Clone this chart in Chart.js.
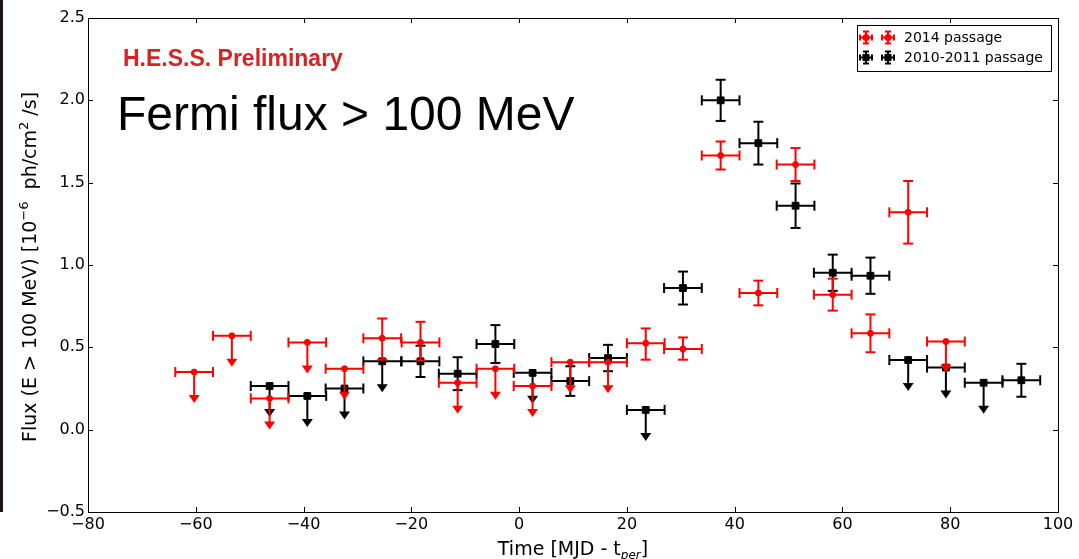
<!DOCTYPE html>
<html>
<head>
<meta charset="utf-8">
<script src="https://cdn.jsdelivr.net/npm/chart.js@4.4.1/dist/chart.umd.min.js"></script>
<style>
  html, body { margin: 0; padding: 0; background: #fff; }
  #wrap { position: relative; width: 1079px; height: 559px; }
  #edge { position: absolute; left: 0; top: 0; width: 3px; height: 512px; background: #1e1414; }
</style>
</head>
<body>
<div id="wrap">
  <canvas id="fluxChart" width="1079" height="559"></canvas>
  <div id="edge"></div>
</div>
<script>
// bins are one week wide
const binHalf = 3.5;

// 2014 passage
const time2014  = [-60.3, -53.3, -46.3, -39.3, -32.4, -25.4, -18.3, -11.4, -4.4, 2.5, 9.5, 16.5, 23.5, 30.4, 37.4, 44.4, 51.3, 58.2, 65.2, 72.2, 79.2];
const flux2014  = [0.35, 0.57, 0.19, 0.53, 0.37, 0.555, 0.53, 0.285, 0.37, 0.265, 0.41, 0.41, 0.525, 0.49, 1.665, 0.83, 1.61, 0.82, 0.585, 1.32, 0.535];
const errHi2014 = [0, 0, 0, 0, 0, 0.12, 0.125, 0, 0, 0, 0, 0, 0.09, 0.07, 0.085, 0.075, 0.10, 0.097, 0.115, 0.19, 0];
const errLo2014 = [0, 0, 0, 0, 0, 0.13, 0.11, 0, 0, 0, 0, 0, 0.10, 0.065, 0.085, 0.075, 0.10, 0.097, 0.115, 0.19, 0];
const ul2014    = [1, 1, 1, 1, 1, 0, 0, 1, 1, 1, 1, 1, 0, 0, 0, 0, 0, 0, 0, 0, 1];

// 2010-2011 passage
const time2010  = [-46.3, -39.3, -32.4, -25.4, -18.3, -11.4, -4.4, 2.5, 9.5, 16.5, 23.5, 30.4, 37.4, 44.4, 51.3, 58.2, 65.2, 72.2, 79.2, 86.2, 93.2];
const flux2010  = [0.265, 0.205, 0.25, 0.415, 0.415, 0.34, 0.52, 0.345, 0.295, 0.435, 0.12, 0.86, 2.0, 1.74, 1.36, 0.953, 0.935, 0.423, 0.377, 0.285, 0.30];
const errHi2010 = [0, 0, 0, 0, 0.095, 0.10, 0.115, 0, 0.09, 0.08, 0, 0.10, 0.125, 0.13, 0.135, 0.11, 0.11, 0, 0, 0, 0.10];
const errLo2010 = [0, 0, 0, 0, 0.095, 0.10, 0.115, 0, 0.09, 0.08, 0, 0.10, 0.125, 0.13, 0.135, 0.11, 0.11, 0, 0, 0, 0.10];
const ul2010    = [1, 1, 1, 1, 0, 0, 0, 1, 0, 0, 1, 0, 0, 0, 0, 0, 0, 1, 1, 1, 0];

const xTicks = [-80, -60, -40, -20, 0, 20, 40, 60, 80, 100];
const yTicks = [-0.5, 0.0, 0.5, 1.0, 1.5, 2.0, 2.5];

const seriesLabels = ['2014 passage', '2010-2011 passage'];

const FONT = '"DejaVu Sans", sans-serif';

function toPoints(t, f) {
    return t.map((x, i) => ({ x: x, y: f[i] }));
}
function minusSign(s) {
    return String(s).replace('-', '\u2212');
}

function line(ctx, x0, y0, x1, y1) {
    ctx.beginPath();
    ctx.moveTo(x0, y0);
    ctx.lineTo(x1, y1);
    ctx.stroke();
}

// error bars / upper-limit arrows, drawn just before each dataset's markers
const errorBars = {
    id: 'errorBars',
    beforeDatasetDraw(chart, args) {
        const ds = chart.data.datasets[args.index];
        const xs = chart.scales.x, ys = chart.scales.y;
        const ctx = chart.ctx;
        ctx.save();
        ctx.strokeStyle = ds.borderColor;
        ctx.fillStyle = ds.borderColor;
        ctx.lineWidth = 2;
        ds.data.forEach((p, i) => {
            const px = xs.getPixelForValue(p.x);
            const py = ys.getPixelForValue(p.y);
            const x0 = xs.getPixelForValue(p.x - binHalf);
            const x1 = xs.getPixelForValue(p.x + binHalf);
            line(ctx, x0, py, x1, py);
            line(ctx, x0, py - 5, x0, py + 5);
            line(ctx, x1, py - 5, x1, py + 5);
            if (ds.upperLimit[i]) {
                line(ctx, px, py, px, py + 24);
                ctx.beginPath();
                ctx.moveTo(px - 5.5, py + 23);
                ctx.lineTo(px + 5.5, py + 23);
                ctx.lineTo(px, py + 31);
                ctx.closePath();
                ctx.fill();
            } else {
                const yt = ys.getPixelForValue(p.y + ds.errHi[i]);
                const yb = ys.getPixelForValue(p.y - ds.errLo[i]);
                line(ctx, px, yt, px, yb);
                line(ctx, px - 5, yt, px + 5, yt);
                line(ctx, px - 5, yb, px + 5, yb);
            }
        });
        ctx.restore();
    }
};

function legendIcon(ctx, x, y, color, square) {
    ctx.strokeStyle = color;
    ctx.fillStyle = color;
    ctx.lineWidth = 2;
    line(ctx, x - 6, y, x + 6, y);
    line(ctx, x, y - 6, x, y + 6);
    line(ctx, x - 6, y - 3, x - 6, y + 3);
    line(ctx, x + 6, y - 3, x + 6, y + 3);
    line(ctx, x - 3, y - 6, x + 3, y - 6);
    line(ctx, x - 3, y + 6, x + 3, y + 6);
    ctx.beginPath();
    if (square) ctx.rect(x - 3.5, y - 3.5, 7, 7);
    else ctx.arc(x, y, 3.5, 0, Math.PI * 2);
    ctx.fill();
}

// draws runs of text with super/subscripts, starting at x (baseline y = 0)
function drawRuns(ctx, runs, startX) {
    let x = startX;
    runs.forEach(r => {
        ctx.font = (r.italic ? 'italic ' : '') + r.size + 'px ' + FONT;
        ctx.fillText(r.t, x, r.dy || 0);
        x += ctx.measureText(r.t).width;
    });
}
function runsWidth(ctx, runs) {
    let w = 0;
    runs.forEach(r => {
        ctx.font = (r.italic ? 'italic ' : '') + r.size + 'px ' + FONT;
        w += ctx.measureText(r.t).width;
    });
    return w;
}

const frameAndText = {
    id: 'frameAndText',
    afterDraw(chart) {
        const ctx = chart.ctx;
        const a = chart.chartArea;
        const xs = chart.scales.x, ys = chart.scales.y;
        ctx.save();

        // axes box with inward ticks
        ctx.strokeStyle = '#000';
        ctx.lineWidth = 1;
        ctx.strokeRect(Math.round(a.left) + 0.5, Math.round(a.top) + 0.5,
                       Math.round(a.right - a.left), Math.round(a.bottom - a.top));
        xTicks.forEach(v => {
            const px = Math.round(xs.getPixelForValue(v)) + 0.5;
            line(ctx, px, a.bottom, px, a.bottom - 5);
            line(ctx, px, a.top, px, a.top + 5);
        });
        yTicks.forEach(v => {
            const py = Math.round(ys.getPixelForValue(v)) + 0.5;
            line(ctx, a.left, py, a.left + 5, py);
            line(ctx, a.right, py, a.right - 5, py);
        });

        // legend
        ctx.fillStyle = '#fff';
        ctx.fillRect(857, 25, 194, 46);
        ctx.strokeStyle = '#000';
        ctx.lineWidth = 1;
        ctx.strokeRect(857.5, 25.5, 194, 46);
        const rows = [
            { y: 37.5, color: '#ff0000', square: false },
            { y: 57.5, color: '#000000', square: true }
        ];
        rows.forEach((r, i) => {
            legendIcon(ctx, 866, r.y, r.color, r.square);
            legendIcon(ctx, 888, r.y, r.color, r.square);
            ctx.fillStyle = '#000';
            ctx.font = '14px ' + FONT;
            ctx.textBaseline = 'middle';
            ctx.textAlign = 'left';
            ctx.fillText(seriesLabels[i], 904, r.y + 1);
        });

        // annotations
        ctx.textBaseline = 'alphabetic';
        ctx.fillStyle = '#d42424';
        ctx.font = 'bold 23px "Liberation Sans", Arial, sans-serif';
        ctx.fillText('H.E.S.S. Preliminary', 123, 66);
        ctx.fillStyle = '#000';
        ctx.font = '48px "Liberation Sans", Arial, sans-serif';
        ctx.fillText('Fermi flux > 100 MeV', 117, 130);

        // axis titles
        ctx.fillStyle = '#000';
        const xRuns = [
            { t: 'Time [MJD - t', size: 19 },
            { t: 'per', size: 12, dy: 4, italic: true },
            { t: ']', size: 19 }
        ];
        const xw = runsWidth(ctx, xRuns);
        ctx.save();
        ctx.translate((a.left + a.right) / 2, 555);
        drawRuns(ctx, xRuns, -xw / 2);
        ctx.restore();

        const yRuns = [
            { t: 'Flux (E > 100 MeV) [10', size: 19 },
            { t: '\u22126', size: 13, dy: -8 },
            { t: '  ph/cm', size: 19 },
            { t: '2', size: 13, dy: -8 },
            { t: ' /s]', size: 19 }
        ];
        const yw = runsWidth(ctx, yRuns);
        ctx.save();
        ctx.translate(36, (a.top + a.bottom) / 2 + 2);
        ctx.rotate(-Math.PI / 2);
        drawRuns(ctx, yRuns, -yw / 2);
        ctx.restore();

        ctx.restore();
    }
};

new Chart(document.getElementById('fluxChart'), {
    type: 'scatter',
    data: {
        datasets: [
            {
                label: seriesLabels[0],
                data: toPoints(time2014, flux2014),
                errHi: errHi2014,
                errLo: errLo2014,
                upperLimit: ul2014,
                borderColor: '#ff0000',
                backgroundColor: '#ff0000',
                pointStyle: 'circle',
                pointRadius: 3,
                pointBorderWidth: 1
            },
            {
                label: seriesLabels[1],
                data: toPoints(time2010, flux2010),
                errHi: errHi2010,
                errLo: errLo2010,
                upperLimit: ul2010,
                borderColor: '#000000',
                backgroundColor: '#000000',
                pointStyle: 'rect',
                pointRadius: 4.8,
                pointBorderWidth: 1
            }
        ]
    },
    options: {
        responsive: false,
        animation: false,
        layout: { padding: { top: 18, right: 21, left: 0, bottom: 0 } },
        plugins: {
            legend: { display: false },
            tooltip: { enabled: false }
        },
        scales: {
            x: {
                type: 'linear',
                min: -80,
                max: 100,
                afterBuildTicks: s => { s.ticks = xTicks.map(v => ({ value: v })); },
                afterFit: s => { s.height = 47; },
                grid: { display: false, drawTicks: false },
                border: { display: false },
                ticks: {
                    autoSkip: false,
                    maxRotation: 0,
                    padding: 3,
                    color: '#000',
                    font: { family: 'DejaVu Sans', size: 16 },
                    callback: v => minusSign(v)
                }
            },
            y: {
                type: 'linear',
                min: -0.5,
                max: 2.5,
                afterBuildTicks: s => { s.ticks = yTicks.map(v => ({ value: v })); },
                afterFit: s => { s.width = 88; },
                grid: { display: false, drawTicks: false },
                border: { display: false },
                ticks: {
                    padding: 3,
                    color: '#000',
                    font: { family: 'DejaVu Sans', size: 16 },
                    callback: v => minusSign(Number(v).toFixed(1))
                }
            }
        }
    },
    plugins: [errorBars, frameAndText]
});
</script>
</body>
</html>
